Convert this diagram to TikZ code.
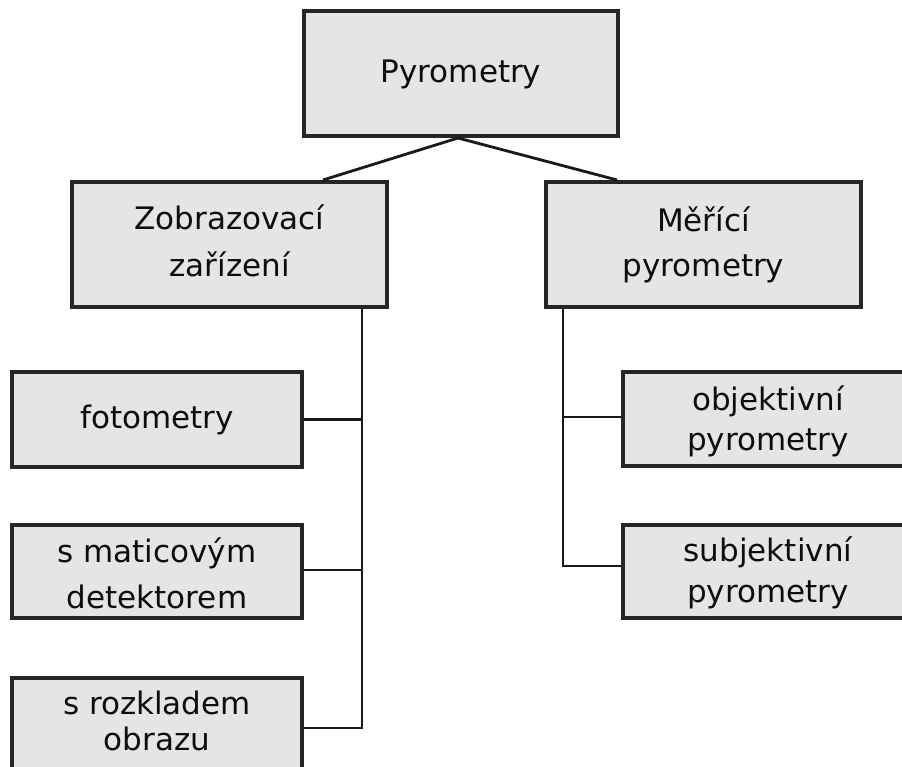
\documentclass[tikz,border=0pt]{standalone}
\usepackage{fontspec}
\setmainfont{DejaVu Sans}
\begin{document}
\begin{tikzpicture}[x=1pt,y=-1pt,
  box/.style={draw=black!85, line width=4pt, fill=black!10, rectangle, inner sep=0pt},
  txt/.style={anchor=base, inner sep=0pt, text=black!95, font=\fontsize{31}{36}\selectfont},
  conn/.style={line width=2.8pt, black!90}]
\useasboundingbox (0,0) rectangle (902,767);
\clip (0,0) rectangle (902,767);
% boxes
\node[box, minimum width=314pt, minimum height=125pt] (top) at (461,73.5) {};
\node[box, minimum width=315pt, minimum height=125pt] (zob) at (229.5,244.5) {};
\node[box, minimum width=315pt, minimum height=125pt] (mer) at (703.5,244.5) {};
\node[box, minimum width=290pt, minimum height=95pt] (fot) at (157,419.5) {};
\node[box, minimum width=290pt, minimum height=93pt] (mat) at (157,571.5) {};
\node[box, minimum width=290pt, minimum height=100pt] (roz) at (157,728) {};
\node[box, minimum width=290pt, minimum height=94pt] (obj) at (768,419) {};
\node[box, minimum width=290pt, minimum height=93pt] (sub) at (768,571.5) {};
% texts
\node[txt] (t1) at (461,83) {Pyrometry};
\node[txt] (t2a) at (229.5,230) {Zobrazovací};
\node[txt] (t2b) at (229.5,277) {zařízení};
\node[txt] (t3a) at (703.5,232) {Měřící};
\node[txt] (t3b) at (703.5,277) {pyrometry};
\node[txt] (t4) at (157,428) {fotometry};
\node[txt] (t5a) at (157,562) {s maticovým};
\node[txt] (t5b) at (157,608) {detektorem};
\node[txt] (t6a) at (157,714) {s rozkladem};
\node[txt] (t6b) at (157,750) {obrazu};
\node[txt] (t7a) at (768,410) {objektivní};
\node[txt] (t7b) at (768,450) {pyrometry};
\node[txt] (t8a) at (768,561) {subjektivní};
\node[txt] (t8b) at (768,602) {pyrometry};
% connectors
\draw[conn] ([xshift=-3pt]top.south) -- ([xshift=93.5pt]zob.north);
\draw[conn] ([xshift=-3pt]top.south) -- ([xshift=-86.5pt]mer.north);
\coordinate (lv) at ([xshift=132.5pt]zob.south);
\coordinate (rv) at ([xshift=-140.5pt]mer.south);
\draw[conn] (lv) |- (roz.east);
\draw[conn] (fot.east) -- (fot.east -| lv);
\draw[conn] ([yshift=1.5pt]mat.east) -- ([yshift=1.5pt]mat.east -| lv);
\draw[conn] (rv) |- ([yshift=5.5pt]sub.west);
\draw[conn] ([yshift=2pt]obj.west) -- ([yshift=2pt]obj.west -| rv);
\end{tikzpicture}
\end{document}
